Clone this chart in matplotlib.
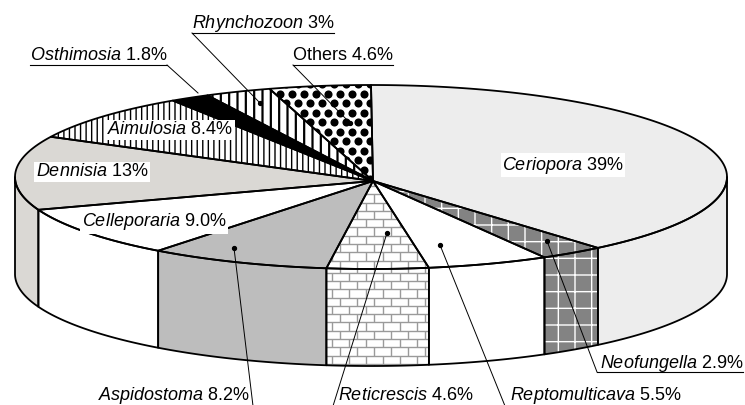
import numpy as np
import matplotlib.pyplot as plt
from matplotlib.patches import Polygon
from matplotlib.collections import LineCollection

# slices, clockwise from 12 o'clock
names = ['Ceriopora', 'Neofungella', 'Reptomulticava', 'Reticrescis', 'Aspidostoma',
         'Celleporaria', 'Dennisia', 'Aimulosia', 'Osthimosia', 'Rhynchozoon', 'Others']
shares = [39, 2.9, 5.5, 4.6, 8.2, 9.0, 13, 8.4, 1.8, 3, 4.6]
pct_text = ['39%', '2.9%', '5.5%', '4.6%', '8.2%', '9.0%', '13%', '8.4%', '1.8%', '3%', '4.6%']

plt.rcParams.update({
    "font.family": "Liberation Sans",
    "mathtext.fontset": "custom",
    "mathtext.rm": "Liberation Sans",
    "mathtext.it": "Liberation Sans:italic",
    "font.size": 13,
})

# pie geometry in pixels (y grows downward)
CX, CY, A, B = 371, 177, 356, 92
APEX = (373, 181)
DEPTH = 97
EDGE_LW = 1.3

# fill, hatch, hatch colour, extra pattern
styles = {
    'Ceriopora':      ('#ededed', None, None, None),
    'Neofungella':    ('#838383', '+', 'white', None),
    'Reptomulticava': ('white', None, None, None),
    'Reticrescis':    ('white', None, None, 'brick'),
    'Aspidostoma':    ('#bdbdbd', None, None, None),
    'Celleporaria':   ('white', None, None, None),
    'Dennisia':       ('#dad8d4', None, None, None),
    'Aimulosia':      ('white', '|||', 'black', None),
    'Osthimosia':     ('black', None, None, None),
    'Rhynchozoon':    ('white', '||', 'black', None),
    'Others':         ('white', None, None, 'dots'),
}


def rim(t):
    t = np.radians(t)
    return np.column_stack([CX + A*np.cos(t), CY - B*np.sin(t)])


fig = plt.figure(figsize=(7.45, 4.05), dpi=100)
ax = fig.add_axes([0, 0, 1, 1])
ax.set_xlim(0, 745)
ax.set_ylim(405, 0)
ax.axis('off')


def brick(patch, verts):
    x0, y0 = verts.min(axis=0) - 20
    x1, y1 = verts.max(axis=0) + 20
    h, L = 8.3, 17.0
    segs = []
    ys = np.arange(y0, y1, h)
    for k, y in enumerate(ys):
        segs.append([(x0, y), (x1, y)])
        off = 0 if k % 2 == 0 else L/2
        for x in np.arange(x0 + off, x1, L):
            segs.append([(x, y), (x, y + h)])
    lc = LineCollection(segs, colors='#9a9a9a', linewidths=1.0, zorder=2)
    ax.add_collection(lc)
    lc.set_clip_path(patch)


def dots(patch, verts):
    x0, y0 = verts.min(axis=0) - 20
    x1, y1 = verts.max(axis=0) + 20
    px, py = [], []
    for k, y in enumerate(np.arange(y0, y1, 9.5)):
        off = 0 if k % 2 == 0 else 6.0
        for x in np.arange(x0 + off, x1, 12.0):
            px.append(x)
            py.append(y)
    sc = ax.scatter(px, py, s=34, color='black', linewidths=0, zorder=2)
    sc.set_clip_path(patch)


def shape(verts, name):
    fc, hatch, hc, pat = styles[name]
    if hatch:
        with plt.rc_context({'hatch.linewidth': 1.6 if name == 'Rhynchozoon' else 1.0}):
            p = Polygon(verts, closed=True, facecolor=fc, edgecolor=hc, hatch=hatch,
                        linewidth=0, zorder=1)
    else:
        p = Polygon(verts, closed=True, facecolor=fc, edgecolor='none', zorder=1)
    ax.add_patch(p)
    if pat == 'brick':
        brick(p, verts)
    elif pat == 'dots':
        dots(p, verts)
    ax.add_patch(Polygon(verts, closed=True, facecolor='none', edgecolor='black',
                         linewidth=EDGE_LW, joinstyle='round', zorder=3))


cum = np.concatenate([[0], np.cumsum(shares)])
t_start = 90 - 3.6*cum[:-1]
t_end = 90 - 3.6*cum[1:]

# side walls (front half only)
for name, ts, te in zip(names, t_start, t_end):
    hi, lo = min(ts, 0), max(te, -180)
    if lo < hi:
        top = rim(np.linspace(hi, lo, 80))
        bot = top[::-1] + [0, DEPTH]
        shape(np.vstack([top, bot]), name)

# top faces
for name, ts, te in zip(names, t_start, t_end):
    arc = rim(np.linspace(ts, te, max(int(abs(ts - te)), 4)))
    shape(np.vstack([[APEX], arc]), name)


def lab(name, pct):
    if name == 'Others':
        return name + ' ' + pct
    return r'$\mathit{' + name + '}$ ' + pct


# labels inside the pie
inside = {'Ceriopora': (563, 165), 'Aimulosia': (170, 130),
          'Dennisia': (92, 172), 'Celleporaria': (154, 222)}
for name, pct in zip(names, pct_text):
    if name in inside:
        x, y = inside[name]
        ax.text(x, y, lab(name, pct), ha='center', va='center', zorder=5,
                bbox=dict(facecolor='white', edgecolor='none', pad=1))

# labels outside, with leader lines: text anchor, ha, leader start, leader end, underline, dot
outside = {
    'Rhynchozoon':    ((192, 24), 'left', (192, 33), (260, 103), True, True),
    'Osthimosia':     ((167, 56), 'right', (167, 65), (198, 93), True, False),
    'Others':         ((293, 56), 'left', (293, 65), (350, 123), True, True),
    'Neofungella':    ((600, 363), 'left', (597, 372), (547, 241), True, True),
    'Aspidostoma':    ((250, 395), 'right', (253, 406), (234, 248), False, True),
    'Reticrescis':    ((338, 395), 'left', (333, 406), (387, 233), False, True),
    'Reptomulticava': ((510, 395), 'left', (505, 406), (440, 245), False, True),
}
texts = {}
for name, pct in zip(names, pct_text):
    if name in outside:
        (x, y), ha, p0, p1, ul, dot = outside[name]
        texts[name] = ax.text(x, y, lab(name, pct), ha=ha, va='center', zorder=5)
        ax.plot([p0[0], p1[0]], [p0[1], p1[1]], color='black', lw=0.7, zorder=6)
        if dot:
            ax.plot(*p1, 'o', color='black', ms=2.8, zorder=6)

fig.canvas.draw()
inv = ax.transData.inverted()
for name, t in texts.items():
    (x, y), ha, p0, p1, ul, dot = outside[name]
    if not ul:
        continue
    bb = t.get_window_extent()
    (xa, _), (xb, _) = inv.transform([[bb.x0, bb.y0], [bb.x1, bb.y1]])
    if ha == 'left':
        ax.plot([p0[0], xb], [p0[1], p0[1]], color='black', lw=0.8, zorder=6)
    else:
        ax.plot([xa, p0[0]], [p0[1], p0[1]], color='black', lw=0.8, zorder=6)

fig.savefig('out.png', dpi=100)
